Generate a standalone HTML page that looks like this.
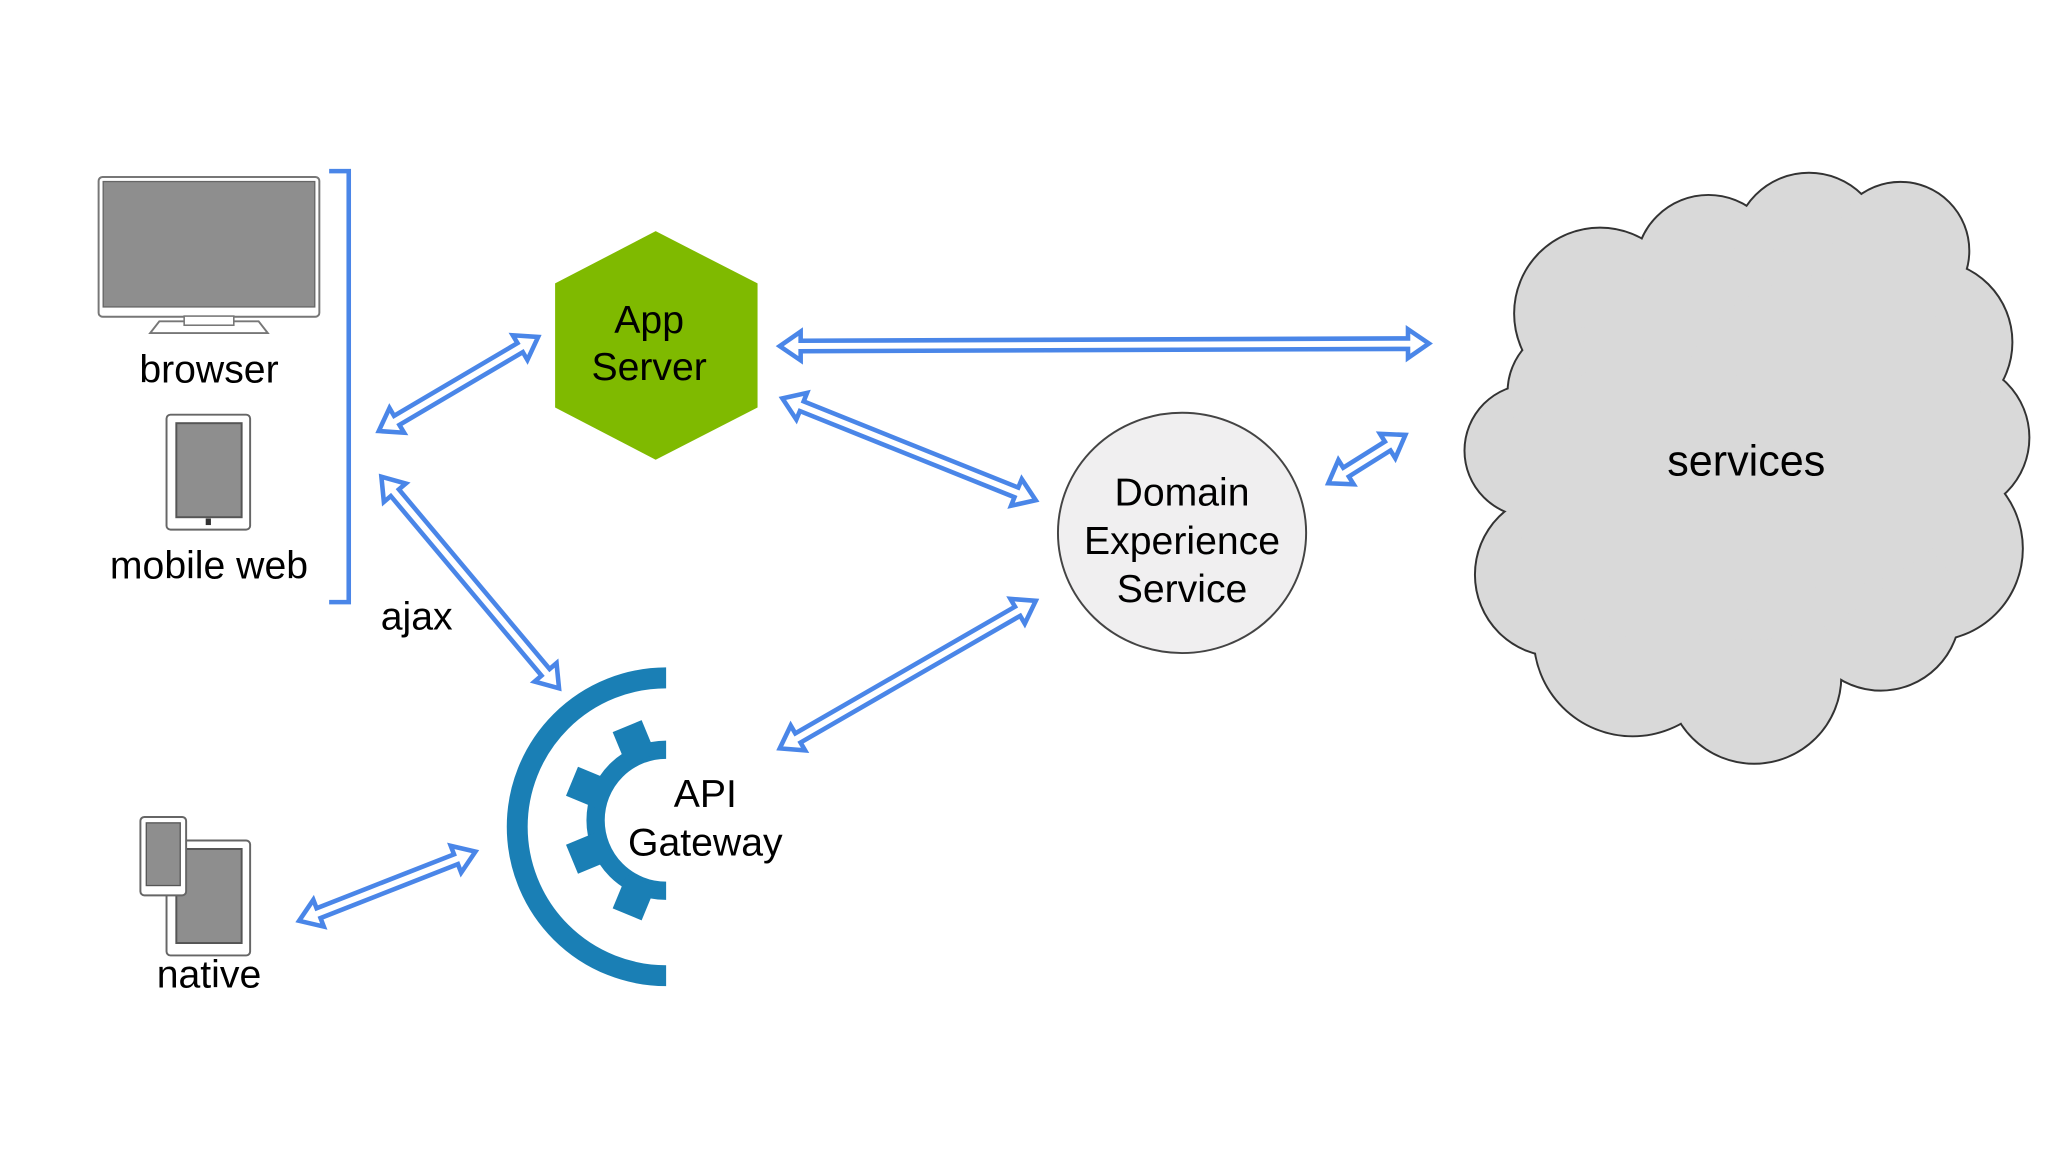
<!DOCTYPE html>
<html><head><meta charset="utf-8"><style>
html,body{margin:0;padding:0;background:#fff;}
svg{display:block;}
text{font-family:"Liberation Sans",sans-serif;fill:#000;}
</style></head><body>
<svg id="s" width="2048" height="1152" viewBox="0 0 1568 882" preserveAspectRatio="none" xmlns="http://www.w3.org/2000/svg">
<defs><clipPath id="cl"><rect x="0" y="0" width="510" height="882"/></clipPath></defs>
<rect width="1568" height="882" fill="#fff"/>
<rect x="75.5" y="135.5" width="169" height="107" rx="3" fill="#fff" stroke="#777" stroke-width="1.5"/>
<rect x="79" y="139" width="162" height="96" fill="#8e8e8e" stroke="#666" stroke-width="1"/>
<path d="M122,246 L198,246 L205,255 L115,255 Z" fill="#fff" stroke="#777" stroke-width="1.5"/>
<rect x="141" y="242" width="38" height="7" fill="#fff" stroke="#777" stroke-width="1.2"/>
<text x="160" y="293" font-size="30" text-anchor="middle">browser</text>
<rect x="127.5" y="317.5" width="64" height="88" rx="3" fill="#fff" stroke="#666" stroke-width="1.5"/>
<rect x="135" y="324" width="50" height="72" fill="#8e8e8e" stroke="#555" stroke-width="1.5"/>
<rect x="157.5" y="397" width="4" height="5" fill="#333"/>
<text x="160" y="443" font-size="30" text-anchor="middle">mobile web</text>
<path d="M252,131 L267,131 L267,461 L252,461" fill="none" stroke="#4a86e8" stroke-width="3.5"/>
<polygon points="502,177 580,217 580,312 502,352 425,312 425,217" fill="#7fba00"/>
<text x="497" y="255" font-size="30" text-anchor="middle">App</text>
<text x="497" y="291" font-size="30" text-anchor="middle">Server</text>
<ellipse cx="905" cy="408" rx="95" ry="92" fill="#f0eff0" stroke="#444" stroke-width="1.5"/>
<text x="905" y="387" font-size="30" text-anchor="middle">Domain</text>
<text x="905" y="424" font-size="30" text-anchor="middle">Experience</text>
<text x="905" y="461" font-size="30" text-anchor="middle">Service</text>
<g id="cloudS" fill="#d9d9d9" stroke="#333" stroke-width="3"></g>
<g id="cloudF" fill="#d9d9d9"></g>
<text x="1337" y="364" font-size="33" text-anchor="middle">services</text>
<g clip-path="url(#cl)" fill="none" stroke="#1a7fb5">
<circle cx="510" cy="633" r="114" stroke-width="16"/>
<circle cx="510" cy="628" r="54" stroke-width="14"/>
</g>
<g id="teeth" clip-path="url(#cl)" fill="#1a7fb5"></g>
<text x="540" y="618" font-size="30" text-anchor="middle">API</text>
<text x="540" y="655" font-size="30" text-anchor="middle">Gateway</text>
<text x="319" y="482" font-size="30" text-anchor="middle">ajax</text>
<rect x="127.5" y="643.5" width="64" height="88" rx="3" fill="#fff" stroke="#666" stroke-width="1.5"/>
<rect x="135" y="650" width="50" height="72" fill="#8e8e8e" stroke="#555" stroke-width="1.5"/>
<rect x="107.5" y="625.5" width="35" height="60" rx="3" fill="#fff" stroke="#666" stroke-width="1.5"/>
<rect x="112" y="630" width="26" height="48" fill="#8e8e8e" stroke="#555" stroke-width="1"/>
<text x="160" y="756" font-size="30" text-anchor="middle">native</text>
<g id="arrows" fill="#fff" stroke="#4a86e8" stroke-width="3.5" stroke-linejoin="miter"></g>
</svg>
<script>
var NS="http://www.w3.org/2000/svg";
function arrow(x1,y1,x2,y2){
 var dx=x2-x1,dy=y2-y1,L=Math.hypot(dx,dy),ux=dx/L,uy=dy/L,nx=-uy,ny=ux;
 var w=4,hw=11,hl=16,pts=[];
 function p(t,o){pts.push((x1+ux*t+nx*o).toFixed(1)+","+(y1+uy*t+ny*o).toFixed(1));}
 p(0,0);p(hl,hw);p(hl,w);p(L-hl,w);p(L-hl,hw);p(L,0);p(L-hl,-hw);p(L-hl,-w);p(hl,-w);p(hl,-hw);
 var e=document.createElementNS(NS,"polygon");e.setAttribute("points",pts.join(" "));
 document.getElementById("arrows").appendChild(e);
}
arrow(290,330,412,258);arrow(292,365,428,527);arrow(597,265,1094,263);
arrow(599,305,793,383);arrow(1017,370,1076,333);arrow(597,573,793,460);arrow(229,705,364,652);
var c=[[1225,240,65],[1308,205,55],[1385,190,57],[1455,192,52],[1478,262,62],[1495,335,58],[1478,420,70],[1440,468,60],[1343,518,66],[1250,488,75],[1192,440,62],[1172,345,50],[1205,300,50],[1340,340,150],[1400,330,120],[1270,380,110]];
c.forEach(function(a){
 ["cloudS","cloudF"].forEach(function(g){var e=document.createElementNS(NS,"circle");
 e.setAttribute("cx",a[0]);e.setAttribute("cy",a[1]);e.setAttribute("r",a[2]);
 document.getElementById(g).appendChild(e);});
});
for(var i=0;i<8;i++){
 var ang=i*45+22.5;var r=document.createElementNS(NS,"rect");
 r.setAttribute("x",510+50);r.setAttribute("y",628-12);r.setAttribute("width",28);r.setAttribute("height",24);
 r.setAttribute("transform","rotate("+ang+" 510 628)");document.getElementById("teeth").appendChild(r);
}
</script>
</body></html>
